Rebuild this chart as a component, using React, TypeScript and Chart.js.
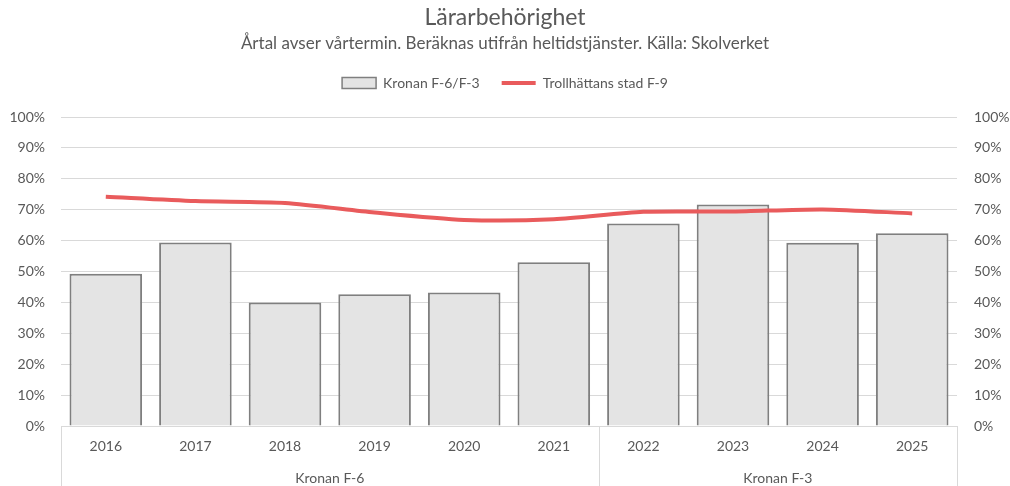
import React, { useEffect, useRef } from 'react';
import { Chart, registerables, layouts } from 'chart.js';

Chart.register(...registerables);

const categories = ['2016', '2017', '2018', '2019', '2020', '2021', '2022', '2023', '2024', '2025'];
const groupLabels = ['Kronan F-6', 'Kronan F-3'];
const groupSizes = [6, 4];
const kronanValues = [49.3, 59.4, 40.0, 42.6, 43.2, 53.0, 65.5, 71.7, 59.3, 62.4];
const trollhattanValues = [74.2, 72.8, 72.2, 69.1, 66.7, 66.9, 69.3, 69.4, 70.1, 68.8];
const yTicks = [0, 10, 20, 30, 40, 50, 60, 70, 80, 90, 100];

const FONT = "Lato, 'Open Sans', sans-serif";
const TEXT = '#595959';
const GRID = '#D9D9D9';

const groupPlugin = {
  id: 'groupPlugin',
  beforeInit(chart: any) {
    const spacer: any = {
      position: 'top',
      weight: 100,
      fullSize: true,
      options: {},
      left: 0,
      top: 0,
      right: 0,
      bottom: 0,
      width: 0,
      height: 0,
      isHorizontal() {
        return true;
      },
      update(maxWidth: number) {
        this.width = maxWidth;
        this.height = 17;
        return { width: this.width, height: this.height };
      },
      draw() {},
    };
    layouts.addBox(chart, spacer);
  },
  afterDraw(chart: any) {
    const ctx = chart.ctx;
    const x = chart.scales.x;
    const n = categories.length;
    const step = (x.right - x.left) / n;
    const top = x.top;
    const bottom = chart.height;
    ctx.save();
    ctx.strokeStyle = GRID;
    ctx.lineWidth = 1;
    let idx = 0;
    const bounds: number[] = [0];
    groupSizes.forEach((s) => {
      idx += s;
      bounds.push(idx);
    });
    bounds.forEach((b) => {
      const px = Math.round(x.left + b * step) + 0.5;
      ctx.beginPath();
      ctx.moveTo(px, top);
      ctx.lineTo(px, bottom);
      ctx.stroke();
    });
    ctx.fillStyle = TEXT;
    ctx.font = `14px ${FONT}`;
    ctx.textAlign = 'center';
    ctx.textBaseline = 'middle';
    groupLabels.forEach((g, i) => {
      const a = x.left + bounds[i] * step;
      const b = x.left + bounds[i + 1] * step;
      ctx.fillText(g, (a + b) / 2, 478);
    });
    ctx.restore();
  },
};

export default function App() {
  const ref = useRef<HTMLCanvasElement>(null);
  useEffect(() => {
    document.body.style.margin = '0';
    const chart = new Chart(ref.current!, {
      type: 'bar',
      data: {
        labels: categories,
        datasets: [
          {
            type: 'bar',
            label: 'Kronan F-6/F-3',
            data: kronanValues,
            backgroundColor: '#E4E4E4',
            borderColor: '#7F7F7F',
            borderWidth: 2,
            barPercentage: 0.81,
            categoryPercentage: 1,
            yAxisID: 'y',
            order: 2,
          },
          {
            type: 'line',
            label: 'Trollhättans stad F-9',
            data: trollhattanValues,
            borderColor: '#E95B5C',
            backgroundColor: '#E95B5C',
            borderWidth: 4,
            pointRadius: 0,
            tension: 0.25,
            yAxisID: 'y',
            order: 1,
          } as any,
        ],
      },
      options: {
        responsive: true,
        maintainAspectRatio: false,
        animation: false,
        layout: { padding: 0 },
        plugins: {
          title: {
            display: true,
            text: 'Lärarbehörighet',
            color: TEXT,
            font: { family: FONT, size: 23, weight: 'normal' },
            padding: { top: 4, bottom: 0 },
          },
          subtitle: {
            display: true,
            text: 'Årtal avser vårtermin. Beräknas utifrån heltidstjänster. Källa: Skolverket',
            color: TEXT,
            font: { family: FONT, size: 17, weight: 'normal' },
            padding: { top: 2, bottom: 0 },
          },
          legend: {
            display: true,
            position: 'top',
            labels: {
              color: TEXT,
              font: { family: FONT, size: 14 },
              usePointStyle: true,
              pointStyleWidth: 34,
              boxHeight: 11,
              padding: 22,
              sort: (a: any, b: any) => a.datasetIndex - b.datasetIndex,
              generateLabels(chart: any) {
                const items = Chart.defaults.plugins.legend.labels.generateLabels(chart);
                items.forEach((it: any) => {
                  if (it.datasetIndex === 0) {
                    it.pointStyle = 'rect';
                    it.lineWidth = 1.5;
                    it.fillStyle = '#E4E4E4';
                    it.strokeStyle = '#7F7F7F';
                  } else {
                    it.pointStyle = 'line';
                    it.lineWidth = 4;
                    it.strokeStyle = '#E95B5C';
                  }
                });
                return items;
              },
            },
          },
          tooltip: { enabled: false },
        },
        scales: {
          x: {
            grid: { display: false, drawTicks: false },
            border: { display: true, color: GRID },
            ticks: { color: TEXT, font: { family: FONT, size: 14 }, padding: 12, maxRotation: 0 },
            afterFit(scale: any) {
              scale.height = 60;
            },
          },
          y: {
            position: 'left',
            min: 0,
            max: 100,
            afterBuildTicks(scale: any) {
              scale.ticks = yTicks.map((v) => ({ value: v }));
            },
            grid: { color: GRID, drawTicks: false },
            border: { display: false },
            ticks: {
              color: TEXT,
              font: { family: FONT, size: 14 },
              padding: 16,
              callback: (v: any) => `${v}%`,
            },
            afterFit(scale: any) {
              scale.width = 61;
            },
          },
          y2: {
            position: 'right',
            min: 0,
            max: 100,
            afterBuildTicks(scale: any) {
              scale.ticks = yTicks.map((v) => ({ value: v }));
            },
            grid: { display: false, drawTicks: false },
            border: { display: false },
            ticks: {
              color: TEXT,
              font: { family: FONT, size: 14 },
              padding: 17,
              callback: (v: any) => `${v}%`,
            },
            afterFit(scale: any) {
              scale.width = 53;
            },
          },
        },
      } as any,
      plugins: [groupPlugin],
    });
    return () => chart.destroy();
  }, []);
  return (
    <div style={{ width: 1010, height: 486, position: 'relative' }}>
      <canvas ref={ref} />
    </div>
  );
}
